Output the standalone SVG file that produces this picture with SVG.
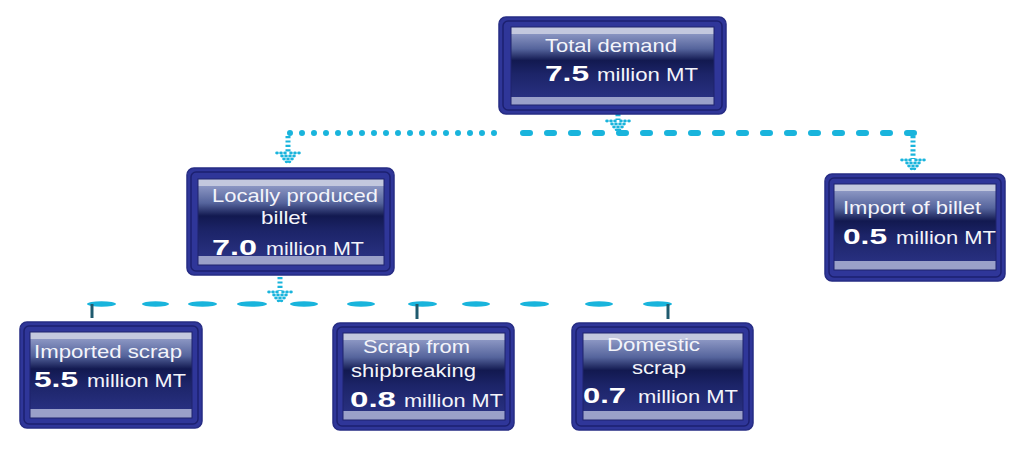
<svg xmlns="http://www.w3.org/2000/svg" xmlns:xlink="http://www.w3.org/1999/xlink" width="1024" height="458" viewBox="0 0 1024 458">
<style>
.outer{fill:#2f3699;stroke:#262c84;stroke-width:1.5}
.ring{fill:none;stroke:#1c2070;stroke-width:1.5}
.panel{fill:url(#pg);stroke:#1e236c;stroke-width:1}
.t{font-family:"Liberation Sans",Arial,sans-serif;font-size:19px;fill:#f3f4fa}
.b{font-family:"Liberation Sans",Arial,sans-serif;font-size:22px;font-weight:bold;fill:#ffffff}
.dot{fill:#19b4dc}
.dotline{fill:none;stroke:#19b4dc;stroke-width:6;stroke-linecap:round}
.shaft{fill:none;stroke:#19b4dc;stroke-width:5;stroke-dasharray:2.2 2.2}
.tick{stroke:#1f5a6e;stroke-width:3}
</style>
<defs>
<linearGradient id="pg" x1="0" y1="0" x2="0" y2="1">
<stop offset="0" stop-color="#c3c8de"/>
<stop offset="0.085" stop-color="#c3c8de"/>
<stop offset="0.085" stop-color="#8a95c2"/>
<stop offset="0.28" stop-color="#55649c"/>
<stop offset="0.43" stop-color="#121950"/>
<stop offset="0.6" stop-color="#1c2468"/>
<stop offset="0.9" stop-color="#283080"/>
<stop offset="0.9" stop-color="#9aa0c9"/>
<stop offset="1" stop-color="#9aa0c9"/>
</linearGradient>
<g id="ahead">
<ellipse class="dot" cx="-11" cy="-10" rx="1.8" ry="1.4"/>
<ellipse class="dot" cx="-7" cy="-10" rx="1.8" ry="1.4"/>
<ellipse class="dot" cx="-3" cy="-10" rx="1.8" ry="1.4"/>
<ellipse class="dot" cx="3" cy="-10" rx="1.8" ry="1.4"/>
<ellipse class="dot" cx="7" cy="-10" rx="1.8" ry="1.4"/>
<ellipse class="dot" cx="11" cy="-10" rx="1.8" ry="1.4"/>
<ellipse class="dot" cx="-6" cy="-7" rx="1.8" ry="1.4"/>
<ellipse class="dot" cx="-2" cy="-7" rx="1.8" ry="1.4"/>
<ellipse class="dot" cx="2" cy="-7" rx="1.8" ry="1.4"/>
<ellipse class="dot" cx="6" cy="-7" rx="1.8" ry="1.4"/>
<ellipse class="dot" cx="-4" cy="-4" rx="1.8" ry="1.4"/>
<ellipse class="dot" cx="0" cy="-4" rx="1.8" ry="1.4"/>
<ellipse class="dot" cx="4" cy="-4" rx="1.8" ry="1.4"/>
<ellipse class="dot" cx="-1.5" cy="-1.2" rx="1.8" ry="1.4"/>
<ellipse class="dot" cx="1.5" cy="-1.2" rx="1.8" ry="1.4"/>
</g>
</defs>
<rect width="1024" height="458" fill="#ffffff"/>

<g id="connectors">
<path class="dotline" d="M290 133 H506" stroke-dasharray="0 12"/>
<path class="dotline" d="M523 133 H916" stroke-dasharray="7 17"/>
<path class="shaft" d="M618 114 V120"/>
<use xlink:href="#ahead" x="618" y="131"/>
<path class="shaft" d="M288 136 V152"/>
<use xlink:href="#ahead" x="288" y="163"/>
<path class="shaft" d="M913 136 V159"/>
<use xlink:href="#ahead" x="913" y="170"/>
<path class="shaft" d="M280 277 V291"/>
<use xlink:href="#ahead" x="280" y="302"/>
<g class="dot">
<ellipse cx="101.5" cy="304" rx="14.5" ry="2.8"/>
<ellipse cx="155.5" cy="304" rx="13.5" ry="2.8"/>
<ellipse cx="202.5" cy="304" rx="14.5" ry="2.8"/>
<ellipse cx="252" cy="304" rx="15" ry="2.8"/>
<ellipse cx="304" cy="304" rx="14" ry="2.8"/>
<ellipse cx="361" cy="304" rx="14" ry="2.8"/>
<ellipse cx="422.5" cy="304" rx="14.5" ry="2.8"/>
<ellipse cx="476" cy="304" rx="14" ry="2.8"/>
<ellipse cx="534.5" cy="304" rx="14.5" ry="2.8"/>
<ellipse cx="599" cy="304" rx="14" ry="2.8"/>
<ellipse cx="657.5" cy="304" rx="14.5" ry="2.8"/>
</g>
<line class="tick" x1="92" y1="304" x2="92" y2="318"/>
<line class="tick" x1="417" y1="304" x2="417" y2="319"/>
<line class="tick" x1="668" y1="304" x2="668" y2="319"/>
</g>

<g id="total-demand">
<rect class="outer" x="499" y="17" width="227" height="97" rx="7"/>
<rect class="ring" x="503" y="21" width="219" height="89" rx="5"/>
<rect class="panel" x="511" y="27" width="203" height="78"/>
<text class="t" x="545" y="52" textLength="132" lengthAdjust="spacingAndGlyphs">Total demand</text>
<text class="b" x="545" y="81" textLength="44" lengthAdjust="spacingAndGlyphs">7.5</text>
<text class="t" x="597" y="81" textLength="101" lengthAdjust="spacingAndGlyphs">million MT</text>
</g>

<g id="locally-produced">
<rect class="outer" x="187" y="168" width="207" height="107" rx="7"/>
<rect class="ring" x="191" y="172" width="199" height="99" rx="5"/>
<rect class="panel" x="198" y="179" width="186" height="86"/>
<text class="t" x="212" y="202" textLength="166" lengthAdjust="spacingAndGlyphs">Locally produced</text>
<text class="t" x="261" y="224" textLength="46" lengthAdjust="spacingAndGlyphs">billet</text>
<text class="b" x="212" y="255" textLength="45" lengthAdjust="spacingAndGlyphs">7.0</text>
<text class="t" x="266" y="255" textLength="98" lengthAdjust="spacingAndGlyphs">million MT</text>
</g>

<g id="import-billet">
<rect class="outer" x="825" y="174" width="180" height="107" rx="7"/>
<rect class="ring" x="829" y="178" width="172" height="99" rx="5"/>
<rect class="panel" x="834" y="184" width="162" height="86"/>
<text class="t" x="843" y="214" textLength="138" lengthAdjust="spacingAndGlyphs">Import of billet</text>
<text class="b" x="843" y="244" textLength="44" lengthAdjust="spacingAndGlyphs">0.5</text>
<text class="t" x="896" y="244" textLength="100" lengthAdjust="spacingAndGlyphs">million MT</text>
</g>

<g id="imported-scrap">
<rect class="outer" x="20" y="322" width="182" height="106" rx="7"/>
<rect class="ring" x="24" y="326" width="174" height="98" rx="5"/>
<rect class="panel" x="30" y="332" width="162" height="86"/>
<text class="t" x="34" y="358" textLength="148" lengthAdjust="spacingAndGlyphs">Imported scrap</text>
<text class="b" x="34" y="387" textLength="44" lengthAdjust="spacingAndGlyphs">5.5</text>
<text class="t" x="87" y="387" textLength="99" lengthAdjust="spacingAndGlyphs">million MT</text>
</g>

<g id="shipbreaking">
<rect class="outer" x="333" y="323" width="181" height="107" rx="7"/>
<rect class="ring" x="337" y="327" width="173" height="99" rx="5"/>
<rect class="panel" x="343" y="333" width="162" height="87"/>
<text class="t" x="363" y="353" textLength="107" lengthAdjust="spacingAndGlyphs">Scrap from</text>
<text class="t" x="351" y="377" textLength="125" lengthAdjust="spacingAndGlyphs">shipbreaking</text>
<text class="b" x="350" y="407" textLength="46" lengthAdjust="spacingAndGlyphs">0.8</text>
<text class="t" x="404" y="407" textLength="99" lengthAdjust="spacingAndGlyphs">million MT</text>
</g>

<g id="domestic-scrap">
<rect class="outer" x="572" y="323" width="181" height="107" rx="7"/>
<rect class="ring" x="576" y="327" width="173" height="99" rx="5"/>
<rect class="panel" x="583" y="333" width="160" height="87"/>
<text class="t" x="607" y="351" textLength="93" lengthAdjust="spacingAndGlyphs">Domestic</text>
<text class="t" x="632" y="374" textLength="54" lengthAdjust="spacingAndGlyphs">scrap</text>
<text class="b" x="583" y="403" textLength="43" lengthAdjust="spacingAndGlyphs">0.7</text>
<text class="t" x="638" y="403" textLength="100" lengthAdjust="spacingAndGlyphs">million MT</text>
</g>
</svg>
